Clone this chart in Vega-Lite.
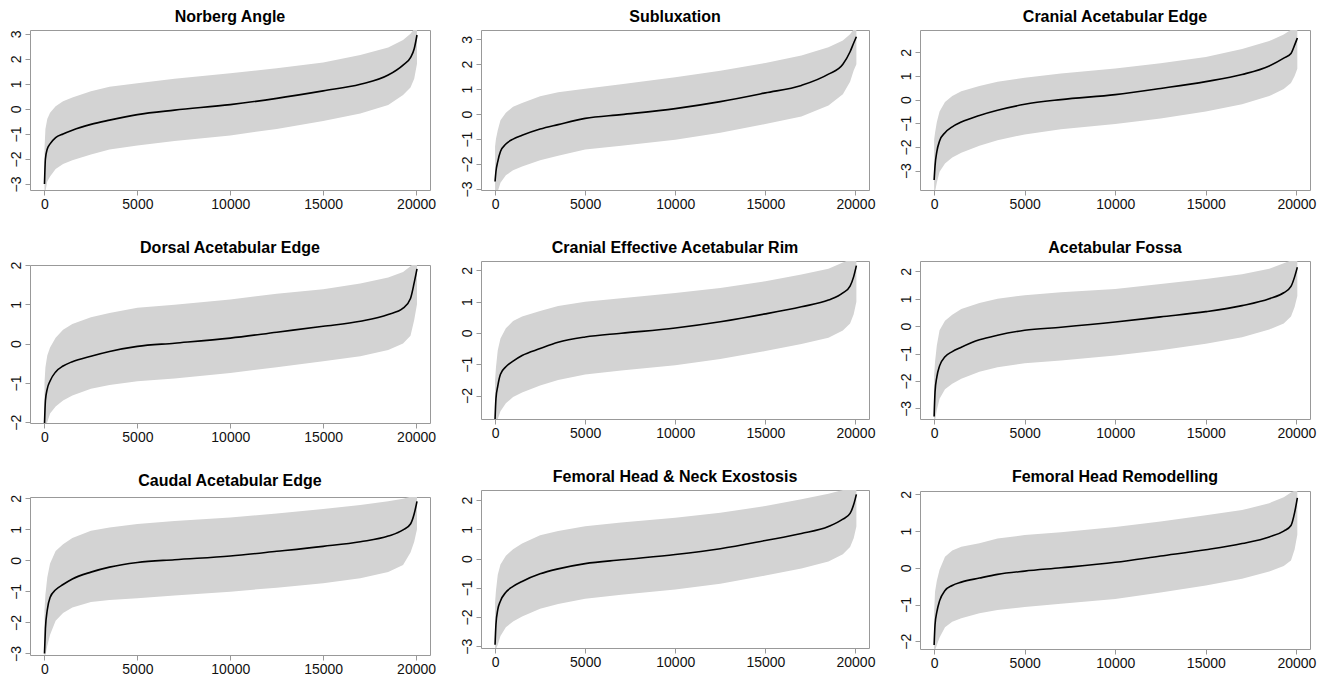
{
  "$schema": "https://vega.github.io/schema/vega-lite/v6.json",
  "background": "white",
  "padding": {"left": 8, "top": 8, "right": 0, "bottom": 0},
  "config": {
    "font": "Liberation Sans",
    "view": {"stroke": "#999999", "strokeWidth": 1},
    "axis": {"grid": false, "domain": false, "tickColor": "#999999", "tickSize": 5, "labelFontSize": 14, "labelColor": "#111111", "labelFont": "Liberation Sans", "labelPadding": 2, "labelOverlap": false},
    "axisY": {"labelAngle": 270, "labelAlign": "center", "labelBaseline": "bottom", "labelPadding": 2, "labelOverlap": false},
    "title": {"fontSize": 16, "fontWeight": "bold", "font": "Liberation Sans", "offset": 5, "color": "#000000"}
  },
  "datasets": {
    "d": [
      {"panel": 1, "x": 0, "est": -3.0, "lo": -3.4, "hi": -1.6},
      {"panel": 1, "x": 50, "est": -2.0, "lo": -3.3, "hi": -0.8},
      {"panel": 1, "x": 150, "est": -1.6, "lo": -2.9, "hi": -0.4},
      {"panel": 1, "x": 300, "est": -1.4, "lo": -2.7, "hi": -0.15},
      {"panel": 1, "x": 600, "est": -1.15, "lo": -2.4, "hi": 0.1},
      {"panel": 1, "x": 1000, "est": -1.0, "lo": -2.2, "hi": 0.3},
      {"panel": 1, "x": 1500, "est": -0.85, "lo": -2.05, "hi": 0.45},
      {"panel": 1, "x": 2500, "est": -0.62, "lo": -1.82, "hi": 0.7},
      {"panel": 1, "x": 3500, "est": -0.45, "lo": -1.62, "hi": 0.88},
      {"panel": 1, "x": 5000, "est": -0.23, "lo": -1.46, "hi": 1.02},
      {"panel": 1, "x": 7000, "est": -0.05, "lo": -1.28, "hi": 1.2},
      {"panel": 1, "x": 10000, "est": 0.17, "lo": -1.06, "hi": 1.42},
      {"panel": 1, "x": 12500, "est": 0.42, "lo": -0.8, "hi": 1.62},
      {"panel": 1, "x": 15000, "est": 0.72, "lo": -0.48, "hi": 1.85},
      {"panel": 1, "x": 17000, "est": 0.98, "lo": -0.18, "hi": 2.15},
      {"panel": 1, "x": 18500, "est": 1.35, "lo": 0.15, "hi": 2.45},
      {"panel": 1, "x": 19300, "est": 1.75, "lo": 0.55, "hi": 2.75},
      {"panel": 1, "x": 19700, "est": 2.05, "lo": 0.85, "hi": 3.0},
      {"panel": 1, "x": 19900, "est": 2.4, "lo": 1.2, "hi": 3.2},
      {"panel": 1, "x": 20050, "est": 2.95, "lo": 1.8, "hi": 3.3},

      {"panel": 2, "x": 0, "est": -2.7, "lo": -3.3, "hi": -1.3},
      {"panel": 2, "x": 50, "est": -2.3, "lo": -3.3, "hi": -1.0},
      {"panel": 2, "x": 150, "est": -1.9, "lo": -3.1, "hi": -0.65},
      {"panel": 2, "x": 300, "est": -1.5, "lo": -2.75, "hi": -0.25},
      {"panel": 2, "x": 600, "est": -1.2, "lo": -2.45, "hi": 0.05},
      {"panel": 2, "x": 1000, "est": -1.0, "lo": -2.25, "hi": 0.3},
      {"panel": 2, "x": 1500, "est": -0.85, "lo": -2.1, "hi": 0.45},
      {"panel": 2, "x": 2500, "est": -0.6, "lo": -1.85, "hi": 0.72},
      {"panel": 2, "x": 3500, "est": -0.42, "lo": -1.67, "hi": 0.88},
      {"panel": 2, "x": 5000, "est": -0.17, "lo": -1.42, "hi": 1.02},
      {"panel": 2, "x": 7000, "est": -0.02, "lo": -1.27, "hi": 1.2},
      {"panel": 2, "x": 10000, "est": 0.22, "lo": -1.03, "hi": 1.48},
      {"panel": 2, "x": 12500, "est": 0.5, "lo": -0.75, "hi": 1.74},
      {"panel": 2, "x": 15000, "est": 0.85, "lo": -0.4, "hi": 2.05},
      {"panel": 2, "x": 17000, "est": 1.15, "lo": -0.1, "hi": 2.35},
      {"panel": 2, "x": 18500, "est": 1.6, "lo": 0.35, "hi": 2.68},
      {"panel": 2, "x": 19300, "est": 2.0, "lo": 0.8, "hi": 2.95},
      {"panel": 2, "x": 19700, "est": 2.5, "lo": 1.3, "hi": 3.2},
      {"panel": 2, "x": 19900, "est": 2.85, "lo": 1.75, "hi": 3.4},
      {"panel": 2, "x": 20050, "est": 3.1, "lo": 2.0, "hi": 3.4},

      {"panel": 3, "x": 0, "est": -3.4, "lo": -3.9, "hi": -1.7},
      {"panel": 3, "x": 50, "est": -2.8, "lo": -3.9, "hi": -1.4},
      {"panel": 3, "x": 150, "est": -2.2, "lo": -3.5, "hi": -0.95},
      {"panel": 3, "x": 300, "est": -1.75, "lo": -3.05, "hi": -0.5},
      {"panel": 3, "x": 600, "est": -1.4, "lo": -2.7, "hi": -0.1},
      {"panel": 3, "x": 1000, "est": -1.15, "lo": -2.45, "hi": 0.15},
      {"panel": 3, "x": 1500, "est": -0.95, "lo": -2.25, "hi": 0.35},
      {"panel": 3, "x": 2500, "est": -0.67, "lo": -1.95, "hi": 0.57},
      {"panel": 3, "x": 3500, "est": -0.45, "lo": -1.72, "hi": 0.75},
      {"panel": 3, "x": 5000, "est": -0.2, "lo": -1.47, "hi": 0.92},
      {"panel": 3, "x": 7000, "est": 0.0, "lo": -1.25, "hi": 1.1},
      {"panel": 3, "x": 10000, "est": 0.21, "lo": -1.03, "hi": 1.31},
      {"panel": 3, "x": 12500, "est": 0.47, "lo": -0.8, "hi": 1.53},
      {"panel": 3, "x": 15000, "est": 0.76, "lo": -0.5, "hi": 1.8},
      {"panel": 3, "x": 17000, "est": 1.06, "lo": -0.2, "hi": 2.14},
      {"panel": 3, "x": 18500, "est": 1.42, "lo": 0.15, "hi": 2.47},
      {"panel": 3, "x": 19300, "est": 1.75, "lo": 0.45, "hi": 2.75},
      {"panel": 3, "x": 19700, "est": 1.95, "lo": 0.7, "hi": 2.95},
      {"panel": 3, "x": 19900, "est": 2.3, "lo": 1.0, "hi": 3.0},
      {"panel": 3, "x": 20050, "est": 2.6, "lo": 1.3, "hi": 3.0},

      {"panel": 4, "x": 0, "est": -2.05, "lo": -2.2, "hi": -1.0},
      {"panel": 4, "x": 50, "est": -1.45, "lo": -2.2, "hi": -0.6},
      {"panel": 4, "x": 150, "est": -1.15, "lo": -2.0, "hi": -0.3},
      {"panel": 4, "x": 300, "est": -0.95, "lo": -1.78, "hi": -0.1},
      {"panel": 4, "x": 600, "est": -0.72, "lo": -1.6, "hi": 0.15},
      {"panel": 4, "x": 1000, "est": -0.57, "lo": -1.45, "hi": 0.35},
      {"panel": 4, "x": 1500, "est": -0.46, "lo": -1.32, "hi": 0.5},
      {"panel": 4, "x": 2500, "est": -0.32, "lo": -1.15, "hi": 0.67},
      {"panel": 4, "x": 3500, "est": -0.2, "lo": -1.05, "hi": 0.78},
      {"panel": 4, "x": 5000, "est": -0.07, "lo": -0.96, "hi": 0.91},
      {"panel": 4, "x": 7000, "est": 0.01, "lo": -0.89, "hi": 0.99},
      {"panel": 4, "x": 10000, "est": 0.14, "lo": -0.75, "hi": 1.12},
      {"panel": 4, "x": 12500, "est": 0.29, "lo": -0.6, "hi": 1.27},
      {"panel": 4, "x": 15000, "est": 0.44, "lo": -0.45, "hi": 1.38},
      {"panel": 4, "x": 17000, "est": 0.57, "lo": -0.32, "hi": 1.53},
      {"panel": 4, "x": 18500, "est": 0.74, "lo": -0.16, "hi": 1.68},
      {"panel": 4, "x": 19300, "est": 0.9, "lo": 0.0, "hi": 1.82},
      {"panel": 4, "x": 19700, "est": 1.15, "lo": 0.2, "hi": 1.97},
      {"panel": 4, "x": 19900, "est": 1.55, "lo": 0.6, "hi": 2.05},
      {"panel": 4, "x": 20050, "est": 1.9, "lo": 1.0, "hi": 2.05},

      {"panel": 5, "x": 0, "est": -2.75, "lo": -2.8, "hi": -1.5},
      {"panel": 5, "x": 50, "est": -2.1, "lo": -2.8, "hi": -1.1},
      {"panel": 5, "x": 150, "est": -1.7, "lo": -2.75, "hi": -0.55},
      {"panel": 5, "x": 300, "est": -1.32, "lo": -2.5, "hi": -0.18},
      {"panel": 5, "x": 600, "est": -1.08, "lo": -2.25, "hi": 0.15},
      {"panel": 5, "x": 1000, "est": -0.9, "lo": -2.05, "hi": 0.38},
      {"panel": 5, "x": 1500, "est": -0.72, "lo": -1.9, "hi": 0.53},
      {"panel": 5, "x": 2500, "est": -0.5, "lo": -1.68, "hi": 0.7},
      {"panel": 5, "x": 3500, "est": -0.3, "lo": -1.5, "hi": 0.86},
      {"panel": 5, "x": 5000, "est": -0.13, "lo": -1.33, "hi": 1.0},
      {"panel": 5, "x": 7000, "est": -0.01, "lo": -1.2, "hi": 1.11},
      {"panel": 5, "x": 10000, "est": 0.16, "lo": -1.03, "hi": 1.28},
      {"panel": 5, "x": 12500, "est": 0.36, "lo": -0.83, "hi": 1.44},
      {"panel": 5, "x": 15000, "est": 0.61, "lo": -0.58, "hi": 1.65},
      {"panel": 5, "x": 17000, "est": 0.84, "lo": -0.35, "hi": 1.87},
      {"panel": 5, "x": 18500, "est": 1.05, "lo": -0.15, "hi": 2.05},
      {"panel": 5, "x": 19300, "est": 1.28, "lo": 0.08, "hi": 2.25},
      {"panel": 5, "x": 19700, "est": 1.5, "lo": 0.3, "hi": 2.35},
      {"panel": 5, "x": 19900, "est": 1.8, "lo": 0.6, "hi": 2.35},
      {"panel": 5, "x": 20050, "est": 2.15, "lo": 1.0, "hi": 2.35},

      {"panel": 6, "x": 0, "est": -3.3, "lo": -3.45, "hi": -1.8},
      {"panel": 6, "x": 50, "est": -2.4, "lo": -3.45, "hi": -1.3},
      {"panel": 6, "x": 150, "est": -1.85, "lo": -3.05, "hi": -0.7},
      {"panel": 6, "x": 300, "est": -1.45, "lo": -2.65, "hi": -0.15},
      {"panel": 6, "x": 600, "est": -1.12, "lo": -2.3, "hi": 0.2},
      {"panel": 6, "x": 1000, "est": -0.93, "lo": -2.1, "hi": 0.42},
      {"panel": 6, "x": 1500, "est": -0.77, "lo": -1.92, "hi": 0.63},
      {"panel": 6, "x": 2500, "est": -0.5, "lo": -1.66, "hi": 0.85},
      {"panel": 6, "x": 3500, "est": -0.33, "lo": -1.5, "hi": 1.0},
      {"panel": 6, "x": 5000, "est": -0.15, "lo": -1.35, "hi": 1.13},
      {"panel": 6, "x": 7000, "est": -0.04, "lo": -1.25, "hi": 1.24},
      {"panel": 6, "x": 10000, "est": 0.15, "lo": -1.07, "hi": 1.36},
      {"panel": 6, "x": 12500, "est": 0.34, "lo": -0.88, "hi": 1.54},
      {"panel": 6, "x": 15000, "est": 0.53, "lo": -0.64, "hi": 1.72},
      {"panel": 6, "x": 17000, "est": 0.75, "lo": -0.4, "hi": 1.9},
      {"panel": 6, "x": 18500, "est": 1.0, "lo": -0.12, "hi": 2.1},
      {"panel": 6, "x": 19300, "est": 1.22, "lo": 0.1, "hi": 2.3},
      {"panel": 6, "x": 19700, "est": 1.45, "lo": 0.35, "hi": 2.4},
      {"panel": 6, "x": 19900, "est": 1.8, "lo": 0.7, "hi": 2.4},
      {"panel": 6, "x": 20050, "est": 2.15, "lo": 1.1, "hi": 2.4},

      {"panel": 7, "x": 0, "est": -3.0, "lo": -3.1, "hi": -1.6},
      {"panel": 7, "x": 50, "est": -2.2, "lo": -3.05, "hi": -1.1},
      {"panel": 7, "x": 150, "est": -1.6, "lo": -2.75, "hi": -0.55},
      {"panel": 7, "x": 300, "est": -1.2, "lo": -2.4, "hi": -0.1},
      {"panel": 7, "x": 600, "est": -0.95, "lo": -1.95, "hi": 0.3},
      {"panel": 7, "x": 1000, "est": -0.78, "lo": -1.7, "hi": 0.52},
      {"panel": 7, "x": 1500, "est": -0.6, "lo": -1.52, "hi": 0.72},
      {"panel": 7, "x": 2500, "est": -0.38, "lo": -1.34, "hi": 0.95},
      {"panel": 7, "x": 3500, "est": -0.22, "lo": -1.28, "hi": 1.06},
      {"panel": 7, "x": 5000, "est": -0.07, "lo": -1.22, "hi": 1.17},
      {"panel": 7, "x": 7000, "est": 0.02, "lo": -1.13, "hi": 1.27},
      {"panel": 7, "x": 10000, "est": 0.14, "lo": -1.01, "hi": 1.38},
      {"panel": 7, "x": 12500, "est": 0.29, "lo": -0.88, "hi": 1.51},
      {"panel": 7, "x": 15000, "est": 0.45, "lo": -0.74, "hi": 1.65},
      {"panel": 7, "x": 17000, "est": 0.6, "lo": -0.58, "hi": 1.78},
      {"panel": 7, "x": 18500, "est": 0.78, "lo": -0.38, "hi": 1.9},
      {"panel": 7, "x": 19300, "est": 0.98, "lo": -0.15, "hi": 1.98},
      {"panel": 7, "x": 19700, "est": 1.17, "lo": 0.25, "hi": 2.05},
      {"panel": 7, "x": 19900, "est": 1.5, "lo": 0.6, "hi": 2.05},
      {"panel": 7, "x": 20050, "est": 1.9, "lo": 1.0, "hi": 2.05},

      {"panel": 8, "x": 0, "est": -2.95, "lo": -3.1, "hi": -1.5},
      {"panel": 8, "x": 50, "est": -2.25, "lo": -3.1, "hi": -1.1},
      {"panel": 8, "x": 150, "est": -1.75, "lo": -2.95, "hi": -0.55},
      {"panel": 8, "x": 300, "est": -1.45, "lo": -2.65, "hi": -0.2},
      {"panel": 8, "x": 600, "est": -1.15, "lo": -2.35, "hi": 0.1},
      {"panel": 8, "x": 1000, "est": -0.95, "lo": -2.15, "hi": 0.32},
      {"panel": 8, "x": 1500, "est": -0.78, "lo": -1.98, "hi": 0.52},
      {"panel": 8, "x": 2500, "est": -0.52, "lo": -1.72, "hi": 0.8},
      {"panel": 8, "x": 3500, "est": -0.35, "lo": -1.55, "hi": 0.95},
      {"panel": 8, "x": 5000, "est": -0.17, "lo": -1.37, "hi": 1.11},
      {"panel": 8, "x": 7000, "est": -0.04, "lo": -1.24, "hi": 1.24},
      {"panel": 8, "x": 10000, "est": 0.14, "lo": -1.06, "hi": 1.4},
      {"panel": 8, "x": 12500, "est": 0.34, "lo": -0.86, "hi": 1.57},
      {"panel": 8, "x": 15000, "est": 0.62, "lo": -0.58, "hi": 1.8},
      {"panel": 8, "x": 17000, "est": 0.86, "lo": -0.34, "hi": 2.03},
      {"panel": 8, "x": 18500, "est": 1.1, "lo": -0.1, "hi": 2.22},
      {"panel": 8, "x": 19300, "est": 1.35, "lo": 0.15, "hi": 2.35},
      {"panel": 8, "x": 19700, "est": 1.55, "lo": 0.4, "hi": 2.38},
      {"panel": 8, "x": 19900, "est": 1.85, "lo": 0.7, "hi": 2.38},
      {"panel": 8, "x": 20050, "est": 2.2, "lo": 1.1, "hi": 2.38},

      {"panel": 9, "x": 0, "est": -2.1, "lo": -2.25, "hi": -1.2},
      {"panel": 9, "x": 50, "est": -1.55, "lo": -2.25, "hi": -0.65},
      {"panel": 9, "x": 150, "est": -1.2, "lo": -2.1, "hi": -0.35},
      {"panel": 9, "x": 300, "est": -0.9, "lo": -1.9, "hi": -0.05},
      {"panel": 9, "x": 600, "est": -0.62, "lo": -1.62, "hi": 0.3},
      {"panel": 9, "x": 1000, "est": -0.48, "lo": -1.47, "hi": 0.47},
      {"panel": 9, "x": 1500, "est": -0.39, "lo": -1.37, "hi": 0.57},
      {"panel": 9, "x": 2500, "est": -0.28, "lo": -1.24, "hi": 0.67},
      {"panel": 9, "x": 3500, "est": -0.18, "lo": -1.15, "hi": 0.8},
      {"panel": 9, "x": 5000, "est": -0.09, "lo": -1.07, "hi": 0.89},
      {"panel": 9, "x": 7000, "est": 0.0, "lo": -0.98, "hi": 0.97},
      {"panel": 9, "x": 10000, "est": 0.15, "lo": -0.85, "hi": 1.11},
      {"panel": 9, "x": 12500, "est": 0.32, "lo": -0.67, "hi": 1.26},
      {"panel": 9, "x": 15000, "est": 0.49, "lo": -0.48, "hi": 1.43},
      {"panel": 9, "x": 17000, "est": 0.66, "lo": -0.3, "hi": 1.57},
      {"panel": 9, "x": 18500, "est": 0.84, "lo": -0.1, "hi": 1.76},
      {"panel": 9, "x": 19300, "est": 1.0, "lo": 0.05, "hi": 1.92},
      {"panel": 9, "x": 19700, "est": 1.15, "lo": 0.2, "hi": 2.05},
      {"panel": 9, "x": 19900, "est": 1.5, "lo": 0.5, "hi": 2.1},
      {"panel": 9, "x": 20050, "est": 1.9, "lo": 0.9, "hi": 2.1}
    ]
  },
  "spacing": 22,
  "hconcat": [
    {
      "spacing": 27,
      "vconcat": [
        {
          "title": "Norberg Angle", "width": 400, "height": 160,
          "data": {"name": "d"}, "transform": [{"filter": "datum.panel == 1"}],
          "encoding": {
            "x": {"field": "x", "type": "quantitative", "title": null, "scale": {"domain": [-780, 20750], "nice": false, "zero": false}, "axis": {"values": [0, 5000, 10000, 15000, 20000], "format": "d"}},
            "y": {"field": "est", "type": "quantitative", "title": null, "scale": {"domain": [-3.24, 3.15], "nice": false, "zero": false}, "axis": {"values": [-3, -2, -1, 0, 1, 2, 3], "tickCount": 7, "labelOverlap": false}}
          },
          "layer": [
            {"mark": {"type": "area", "color": "#d3d3d3", "clip": true}, "encoding": {"y": {"field": "lo", "type": "quantitative", "title": null, "axis": {"values": [-3, -2, -1, 0, 1, 2, 3], "tickCount": 7, "labelOverlap": false}}, "y2": {"field": "hi"}}},
            {"mark": {"type": "line", "color": "#000000", "strokeWidth": 1.6, "clip": true, "interpolate": "monotone"}}
          ]
        },
        {
          "title": "Dorsal Acetabular Edge", "width": 400, "height": 158,
          "data": {"name": "d"}, "transform": [{"filter": "datum.panel == 4"}],
          "encoding": {
            "x": {"field": "x", "type": "quantitative", "title": null, "scale": {"domain": [-780, 20750], "nice": false, "zero": false}, "axis": {"values": [0, 5000, 10000, 15000, 20000], "format": "d"}},
            "y": {"field": "est", "type": "quantitative", "title": null, "scale": {"domain": [-2.02, 2.0], "nice": false, "zero": false}, "axis": {"values": [-2, -1, 0, 1, 2], "tickCount": 5, "labelOverlap": false}}
          },
          "layer": [
            {"mark": {"type": "area", "color": "#d3d3d3", "clip": true}, "encoding": {"y": {"field": "lo", "type": "quantitative", "title": null, "axis": {"values": [-2, -1, 0, 1, 2], "tickCount": 5, "labelOverlap": false}}, "y2": {"field": "hi"}}},
            {"mark": {"type": "line", "color": "#000000", "strokeWidth": 1.6, "clip": true, "interpolate": "monotone"}}
          ]
        },
        {
          "title": "Caudal Acetabular Edge", "width": 400, "height": 158,
          "data": {"name": "d"}, "transform": [{"filter": "datum.panel == 7"}],
          "encoding": {
            "x": {"field": "x", "type": "quantitative", "title": null, "scale": {"domain": [-780, 20750], "nice": false, "zero": false}, "axis": {"values": [0, 5000, 10000, 15000, 20000], "format": "d"}},
            "y": {"field": "est", "type": "quantitative", "title": null, "scale": {"domain": [-3.05, 2.04], "nice": false, "zero": false}, "axis": {"values": [-3, -2, -1, 0, 1, 2], "tickCount": 6, "labelOverlap": false}}
          },
          "layer": [
            {"mark": {"type": "area", "color": "#d3d3d3", "clip": true}, "encoding": {"y": {"field": "lo", "type": "quantitative", "title": null, "axis": {"values": [-3, -2, -1, 0, 1, 2], "tickCount": 6, "labelOverlap": false}}, "y2": {"field": "hi"}}},
            {"mark": {"type": "line", "color": "#000000", "strokeWidth": 1.6, "clip": true, "interpolate": "monotone"}}
          ]
        }
      ]
    },
    {
      "spacing": 27,
      "vconcat": [
        {
          "title": "Subluxation", "width": 388, "height": 160,
          "data": {"name": "d"}, "transform": [{"filter": "datum.panel == 2"}],
          "encoding": {
            "x": {"field": "x", "type": "quantitative", "title": null, "scale": {"domain": [-780, 20750], "nice": false, "zero": false}, "axis": {"values": [0, 5000, 10000, 15000, 20000], "format": "d"}},
            "y": {"field": "est", "type": "quantitative", "title": null, "scale": {"domain": [-3.04, 3.37], "nice": false, "zero": false}, "axis": {"values": [-3, -2, -1, 0, 1, 2, 3], "tickCount": 7, "labelOverlap": false}}
          },
          "layer": [
            {"mark": {"type": "area", "color": "#d3d3d3", "clip": true}, "encoding": {"y": {"field": "lo", "type": "quantitative", "title": null, "axis": {"values": [-3, -2, -1, 0, 1, 2, 3], "tickCount": 7, "labelOverlap": false}}, "y2": {"field": "hi"}}},
            {"mark": {"type": "line", "color": "#000000", "strokeWidth": 1.6, "clip": true, "interpolate": "monotone"}}
          ]
        },
        {
          "title": "Cranial Effective Acetabular Rim", "width": 388, "height": 158,
          "data": {"name": "d"}, "transform": [{"filter": "datum.panel == 5"}],
          "encoding": {
            "x": {"field": "x", "type": "quantitative", "title": null, "scale": {"domain": [-780, 20750], "nice": false, "zero": false}, "axis": {"values": [0, 5000, 10000, 15000, 20000], "format": "d"}},
            "y": {"field": "est", "type": "quantitative", "title": null, "scale": {"domain": [-2.75, 2.3], "nice": false, "zero": false}, "axis": {"values": [-2, -1, 0, 1, 2], "tickCount": 5, "labelOverlap": false}}
          },
          "layer": [
            {"mark": {"type": "area", "color": "#d3d3d3", "clip": true}, "encoding": {"y": {"field": "lo", "type": "quantitative", "title": null, "axis": {"values": [-2, -1, 0, 1, 2], "tickCount": 5, "labelOverlap": false}}, "y2": {"field": "hi"}}},
            {"mark": {"type": "line", "color": "#000000", "strokeWidth": 1.6, "clip": true, "interpolate": "monotone"}}
          ]
        },
        {
          "title": "Femoral Head & Neck Exostosis", "width": 388, "height": 158,
          "data": {"name": "d"}, "transform": [{"filter": "datum.panel == 8"}],
          "encoding": {
            "x": {"field": "x", "type": "quantitative", "title": null, "scale": {"domain": [-780, 20750], "nice": false, "zero": false}, "axis": {"values": [0, 5000, 10000, 15000, 20000], "format": "d"}},
            "y": {"field": "est", "type": "quantitative", "title": null, "scale": {"domain": [-3.06, 2.35], "nice": false, "zero": false}, "axis": {"values": [-3, -2, -1, 0, 1, 2], "tickCount": 6, "labelOverlap": false}}
          },
          "layer": [
            {"mark": {"type": "area", "color": "#d3d3d3", "clip": true}, "encoding": {"y": {"field": "lo", "type": "quantitative", "title": null, "axis": {"values": [-3, -2, -1, 0, 1, 2], "tickCount": 6, "labelOverlap": false}}, "y2": {"field": "hi"}}},
            {"mark": {"type": "line", "color": "#000000", "strokeWidth": 1.6, "clip": true, "interpolate": "monotone"}}
          ]
        }
      ]
    },
    {
      "spacing": 27,
      "vconcat": [
        {
          "title": "Cranial Acetabular Edge", "width": 390, "height": 160,
          "data": {"name": "d"}, "transform": [{"filter": "datum.panel == 3"}],
          "encoding": {
            "x": {"field": "x", "type": "quantitative", "title": null, "scale": {"domain": [-780, 20750], "nice": false, "zero": false}, "axis": {"values": [0, 5000, 10000, 15000, 20000], "format": "d"}},
            "y": {"field": "est", "type": "quantitative", "title": null, "scale": {"domain": [-3.82, 2.94], "nice": false, "zero": false}, "axis": {"values": [-3, -2, -1, 0, 1, 2], "tickCount": 6, "labelOverlap": false}}
          },
          "layer": [
            {"mark": {"type": "area", "color": "#d3d3d3", "clip": true}, "encoding": {"y": {"field": "lo", "type": "quantitative", "title": null, "axis": {"values": [-3, -2, -1, 0, 1, 2], "tickCount": 6, "labelOverlap": false}}, "y2": {"field": "hi"}}},
            {"mark": {"type": "line", "color": "#000000", "strokeWidth": 1.6, "clip": true, "interpolate": "monotone"}}
          ]
        },
        {
          "title": "Acetabular Fossa", "width": 390, "height": 158,
          "data": {"name": "d"}, "transform": [{"filter": "datum.panel == 6"}],
          "encoding": {
            "x": {"field": "x", "type": "quantitative", "title": null, "scale": {"domain": [-780, 20750], "nice": false, "zero": false}, "axis": {"values": [0, 5000, 10000, 15000, 20000], "format": "d"}},
            "y": {"field": "est", "type": "quantitative", "title": null, "scale": {"domain": [-3.39, 2.38], "nice": false, "zero": false}, "axis": {"values": [-3, -2, -1, 0, 1, 2], "tickCount": 6, "labelOverlap": false}}
          },
          "layer": [
            {"mark": {"type": "area", "color": "#d3d3d3", "clip": true}, "encoding": {"y": {"field": "lo", "type": "quantitative", "title": null, "axis": {"values": [-3, -2, -1, 0, 1, 2], "tickCount": 6, "labelOverlap": false}}, "y2": {"field": "hi"}}},
            {"mark": {"type": "line", "color": "#000000", "strokeWidth": 1.6, "clip": true, "interpolate": "monotone"}}
          ]
        },
        {
          "title": "Femoral Head Remodelling", "width": 390, "height": 158,
          "data": {"name": "d"}, "transform": [{"filter": "datum.panel == 9"}],
          "encoding": {
            "x": {"field": "x", "type": "quantitative", "title": null, "scale": {"domain": [-780, 20750], "nice": false, "zero": false}, "axis": {"values": [0, 5000, 10000, 15000, 20000], "format": "d"}},
            "y": {"field": "est", "type": "quantitative", "title": null, "scale": {"domain": [-2.21, 2.09], "nice": false, "zero": false}, "axis": {"values": [-2, -1, 0, 1, 2], "tickCount": 5, "labelOverlap": false}}
          },
          "layer": [
            {"mark": {"type": "area", "color": "#d3d3d3", "clip": true}, "encoding": {"y": {"field": "lo", "type": "quantitative", "title": null, "axis": {"values": [-2, -1, 0, 1, 2], "tickCount": 5, "labelOverlap": false}}, "y2": {"field": "hi"}}},
            {"mark": {"type": "line", "color": "#000000", "strokeWidth": 1.6, "clip": true, "interpolate": "monotone"}}
          ]
        }
      ]
    }
  ]
}
